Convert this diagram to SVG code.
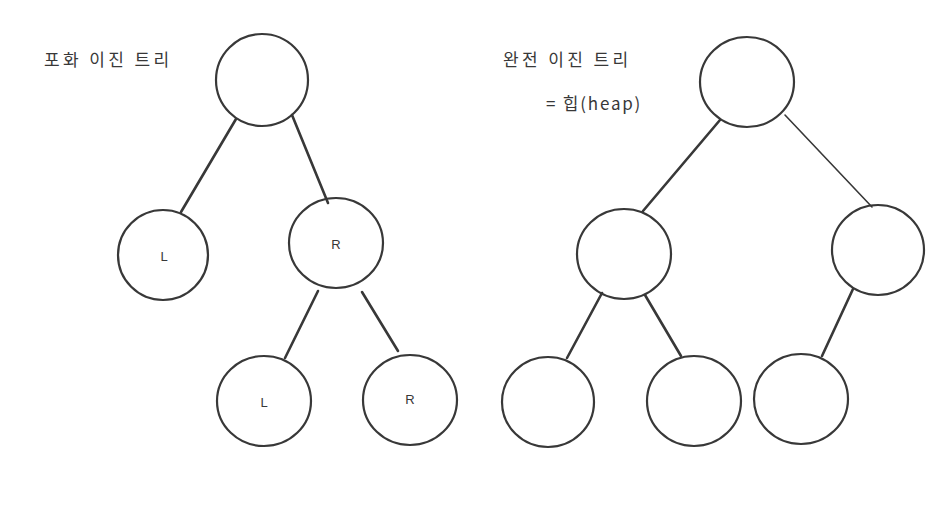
<svg xmlns="http://www.w3.org/2000/svg" width="949" height="525" viewBox="0 0 949 525">
<style>
.n{fill:none;stroke:#383838;stroke-width:2.2}
.e{stroke:#383838;stroke-width:2.6;stroke-linecap:round;fill:none}
.thin{stroke-width:1.6}
.t{font-family:"Noto Sans CJK KR","Noto Sans",sans-serif;font-size:17px;fill:#383838;letter-spacing:3.4px}
.l{font-family:"Liberation Sans","Noto Sans",sans-serif;font-size:13px;fill:#383838;text-anchor:middle;dominant-baseline:central}
</style>
<rect width="949" height="525" fill="#ffffff"/>
<text class="t" x="44" y="66">포화 이진 트리</text>
<text class="t" x="503" y="66">완전 이진 트리</text>
<text class="t" x="546" y="110" style="letter-spacing:1.8px">= 힙(heap)</text>
<g id="edges">
<line class="e" x1="236" y1="119" x2="181" y2="212"/>
<line class="e" x1="292" y1="115" x2="328" y2="203"/>
<line class="e" x1="318" y1="291" x2="285" y2="358"/>
<line class="e" x1="362" y1="292" x2="398" y2="351"/>
<line class="e" x1="720" y1="120" x2="643" y2="211"/>
<line class="e thin" x1="785" y1="115" x2="872" y2="207"/>
<line class="e" x1="602" y1="293" x2="567" y2="358"/>
<line class="e" x1="645" y1="295" x2="681" y2="356"/>
<line class="e" x1="853" y1="289" x2="822" y2="356"/>
</g>
<g id="s-root"><ellipse class="n" cx="262" cy="80" rx="46" ry="46"/></g>
<g id="s-L"><ellipse class="n" cx="163" cy="255" rx="45" ry="45"/><text class="l" x="164" y="256">L</text></g>
<g id="s-R"><ellipse class="n" cx="336" cy="243" rx="47" ry="45"/><text class="l" x="336" y="244">R</text></g>
<g id="s-RL"><ellipse class="n" cx="264" cy="401" rx="47" ry="45"/><text class="l" x="264" y="402">L</text></g>
<g id="s-RR"><ellipse class="n" cx="410" cy="400" rx="47" ry="45"/><text class="l" x="410" y="399">R</text></g>
<g id="c-root"><ellipse class="n" cx="747" cy="82" rx="47" ry="45"/></g>
<g id="c-L"><ellipse class="n" cx="624" cy="254" rx="47" ry="45"/></g>
<g id="c-R"><ellipse class="n" cx="878" cy="250" rx="46" ry="45"/></g>
<g id="c-LL"><ellipse class="n" cx="548" cy="402" rx="46" ry="45"/></g>
<g id="c-LR"><ellipse class="n" cx="694" cy="401" rx="47" ry="45"/></g>
<g id="c-RL"><ellipse class="n" cx="801" cy="399" rx="47" ry="45"/></g>
</svg>
